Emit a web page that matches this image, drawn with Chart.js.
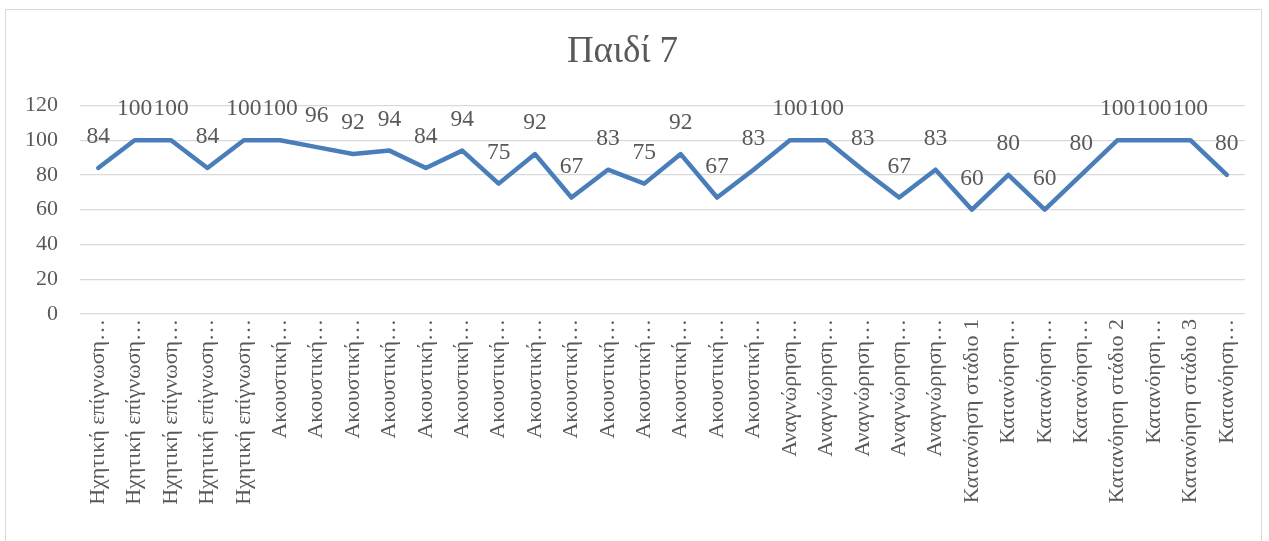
<!DOCTYPE html>
<html>
<head>
<meta charset="utf-8">
<script src="https://cdn.jsdelivr.net/npm/chart.js@4.4.1/dist/chart.umd.min.js"></script>
<style>
  html, body { margin: 0; padding: 0; background: #ffffff; }
  #wrap { position: absolute; left: 0; top: 0; width: 1269px; height: 541px; }
  #frame { position: absolute; left: 5px; top: 9px; width: 1257px; height: 540px; border: 1px solid #d9d9d9; box-sizing: border-box; pointer-events: none; }
</style>
</head>
<body>
<div id="wrap"><canvas id="c" width="1269" height="541"></canvas></div>
<div id="frame"></div>
<script>
const chartTitle = "Παιδί 7";
const categories = [
  "Ηχητική επίγνωση…", "Ηχητική επίγνωση…", "Ηχητική επίγνωση…", "Ηχητική επίγνωση…", "Ηχητική επίγνωση…",
  "Ακουστική…", "Ακουστική…", "Ακουστική…", "Ακουστική…", "Ακουστική…", "Ακουστική…", "Ακουστική…",
  "Ακουστική…", "Ακουστική…", "Ακουστική…", "Ακουστική…", "Ακουστική…", "Ακουστική…", "Ακουστική…",
  "Αναγνώρηση…", "Αναγνώρηση…", "Αναγνώρηση…", "Αναγνώρηση…", "Αναγνώρηση…",
  "Κατανόηση στάδιο 1", "Κατανόηση…", "Κατανόηση…", "Κατανόηση…",
  "Κατανόηση στάδιο 2", "Κατανόηση…", "Κατανόηση στάδιο 3", "Κατανόηση…"
];
const values = [84, 100, 100, 84, 100, 100, 96, 92, 94, 84, 94, 75, 92, 67, 83, 75, 92, 67, 83,
                100, 100, 83, 67, 83, 60, 80, 60, 80, 100, 100, 100, 80];
const yTicks = [0, 20, 40, 60, 80, 100, 120];

const FONT = "'Liberation Serif', 'Times New Roman', serif";
const TXT = "#595959";

const valueLabels = {
  id: 'valueLabels',
  afterDatasetsDraw(chart) {
    const ctx = chart.ctx;
    const meta = chart.getDatasetMeta(0);
    ctx.save();
    ctx.font = "23.5px " + FONT;
    ctx.fillStyle = TXT;
    ctx.textAlign = 'center';
    ctx.textBaseline = 'middle';
    meta.data.forEach((pt, i) => {
      ctx.fillText(String(values[i]), pt.x, pt.y - 31);
    });
    ctx.restore();
  }
};

new Chart(document.getElementById('c'), {
  type: 'line',
  data: {
    labels: categories,
    datasets: [{
      data: values,
      borderColor: '#4a7ebb',
      borderWidth: 4.5,
      pointRadius: 0,
      pointHoverRadius: 0,
      tension: 0,
      fill: false,
      borderJoinStyle: 'round',
      borderCapStyle: 'round'
    }]
  },
  options: {
    responsive: false,
    animation: false,
    events: [],
    layout: { padding: { left: 0, right: 24, top: 0, bottom: 0 } },
    plugins: {
      legend: { display: false },
      tooltip: { enabled: false },
      title: {
        display: true,
        text: chartTitle,
        color: TXT,
        font: { family: FONT, size: 37, weight: 'normal' },
        padding: { top: 30, bottom: 31 }
      }
    },
    scales: {
      x: {
        offset: true,
        grid: { display: false, drawTicks: false },
        border: { display: false },
        ticks: {
          autoSkip: false,
          minRotation: 90,
          maxRotation: 90,
          padding: 5,
          color: TXT,
          font: { family: FONT, size: 22 }
        },
        afterFit(s) { s.height = 227; }
      },
      y: {
        min: 0,
        max: 120,
        afterBuildTicks(s) { s.ticks = yTicks.map(v => ({ value: v })); },
        grid: { color: '#d9d9d9', lineWidth: 1.3, drawTicks: false },
        border: { display: false },
        ticks: {
          padding: 22,
          color: TXT,
          font: { family: FONT, size: 22 }
        },
        afterFit(s) { s.width = 80; }
      }
    }
  },
  plugins: [valueLabels]
});
</script>
</body>
</html>
